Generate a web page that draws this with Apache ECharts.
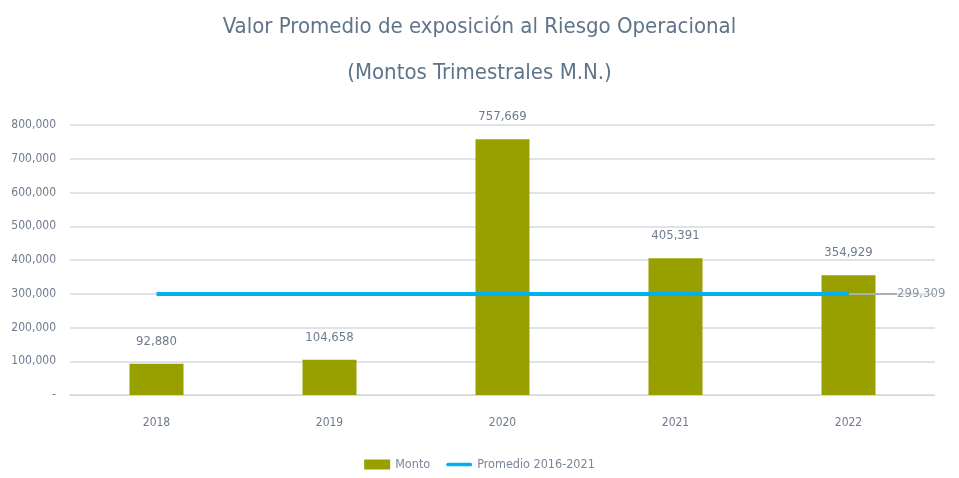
<!DOCTYPE html>
<html><head><meta charset="utf-8">
<script src="https://cdn.jsdelivr.net/npm/echarts@6/dist/echarts.min.js"></script>
<style>html,body{margin:0;padding:0;background:#fff}#c{width:959px;height:478px}</style>
</head><body><div id="c"></div>
<script>
const categories = ['2018','2019','2020','2021','2022'];
const monto = [92880, 104658, 757669, 405391, 354929];
const promedio = [299309, 299309, 299309, 299309, 299309];
const yTicks = [0,100000,200000,300000,400000,500000,600000,700000,800000];

const fmt = v => v === 0 ? '-' : Math.round(v).toString().replace(/\B(?=(\d{3})+(?!\d))/g, ',');
const FONT = '"DejaVu Sans Condensed", "Liberation Sans Narrow", sans-serif';
const last = promedio.length - 1;
const chart = echarts.init(document.getElementById('c'));
chart.setOption({
  animation: false,
  textStyle: { fontFamily: FONT },
  title: {
    text: 'Valor Promedio de exposición al Riesgo Operacional\n(Montos Trimestrales M.N.)',
    left: 'center', top: -1,
    textStyle: { fontFamily: FONT, fontSize: 22, fontWeight: 'normal', color: '#5F7389', lineHeight: 46 }
  },
  grid: { left: 70, right: 24, top: 125, bottom: 83 },
  legend: {
    bottom: 2, left: 'center', itemGap: 16, itemWidth: 26, itemHeight: 10,
    textStyle: { fontFamily: FONT, fontSize: 12.5, color: '#7A8699' },
    data: [
      { name: 'Monto', icon: 'rect' },
      { name: 'Promedio 2016-2021', icon: 'path://M2,0 L26,0 A2,2 0 0 1 26,4 L2,4 A2,2 0 0 1 2,0 Z' }
    ]
  },
  xAxis: {
    type: 'category', data: categories,
    axisLine: { lineStyle: { color: '#D5D9DE' } },
    axisTick: { show: false },
    axisLabel: { color: '#6E7B8E', fontSize: 12, margin: 22 }
  },
  yAxis: {
    type: 'value', min: 0, max: yTicks[yTicks.length-1], interval: 100000,
    axisLine: { show: false }, axisTick: { show: false },
    splitLine: { lineStyle: { color: '#D5D9DE', width: 1.5 } },
    axisLabel: { color: '#6E7B8E', fontSize: 12, margin: 14, formatter: fmt }
  },
  series: [
    {
      name: 'Monto', type: 'bar', data: monto, barWidth: 54,
      itemStyle: { color: '#98A000' },
      label: { show: true, position: 'top', distance: 16, color: '#6E7B8E', fontSize: 13, formatter: p => fmt(p.value) }
    },
    {
      name: 'Promedio 2016-2021', type: 'line', data: promedio,
      symbol: 'none', z: 3,
      lineStyle: { color: '#00B0F0', width: 4 },
      itemStyle: { color: '#00B0F0' }
    },
    {
      name: 'promLabel', type: 'scatter', z: 2,
      data: [[categories[last], promedio[last]]],
      symbolSize: 1, itemStyle: { color: 'rgba(0,0,0,0)' },
      label: { show: true, position: 'right', distance: 0, color: '#6E7B8E', fontSize: 13, formatter: p => fmt(p.value[1]) },
      labelLayout: { dx: 48 },
      labelLine: { show: true, lineStyle: { color: '#A8AEB6', width: 2 } }
    }
  ]
});
</script></body></html>
